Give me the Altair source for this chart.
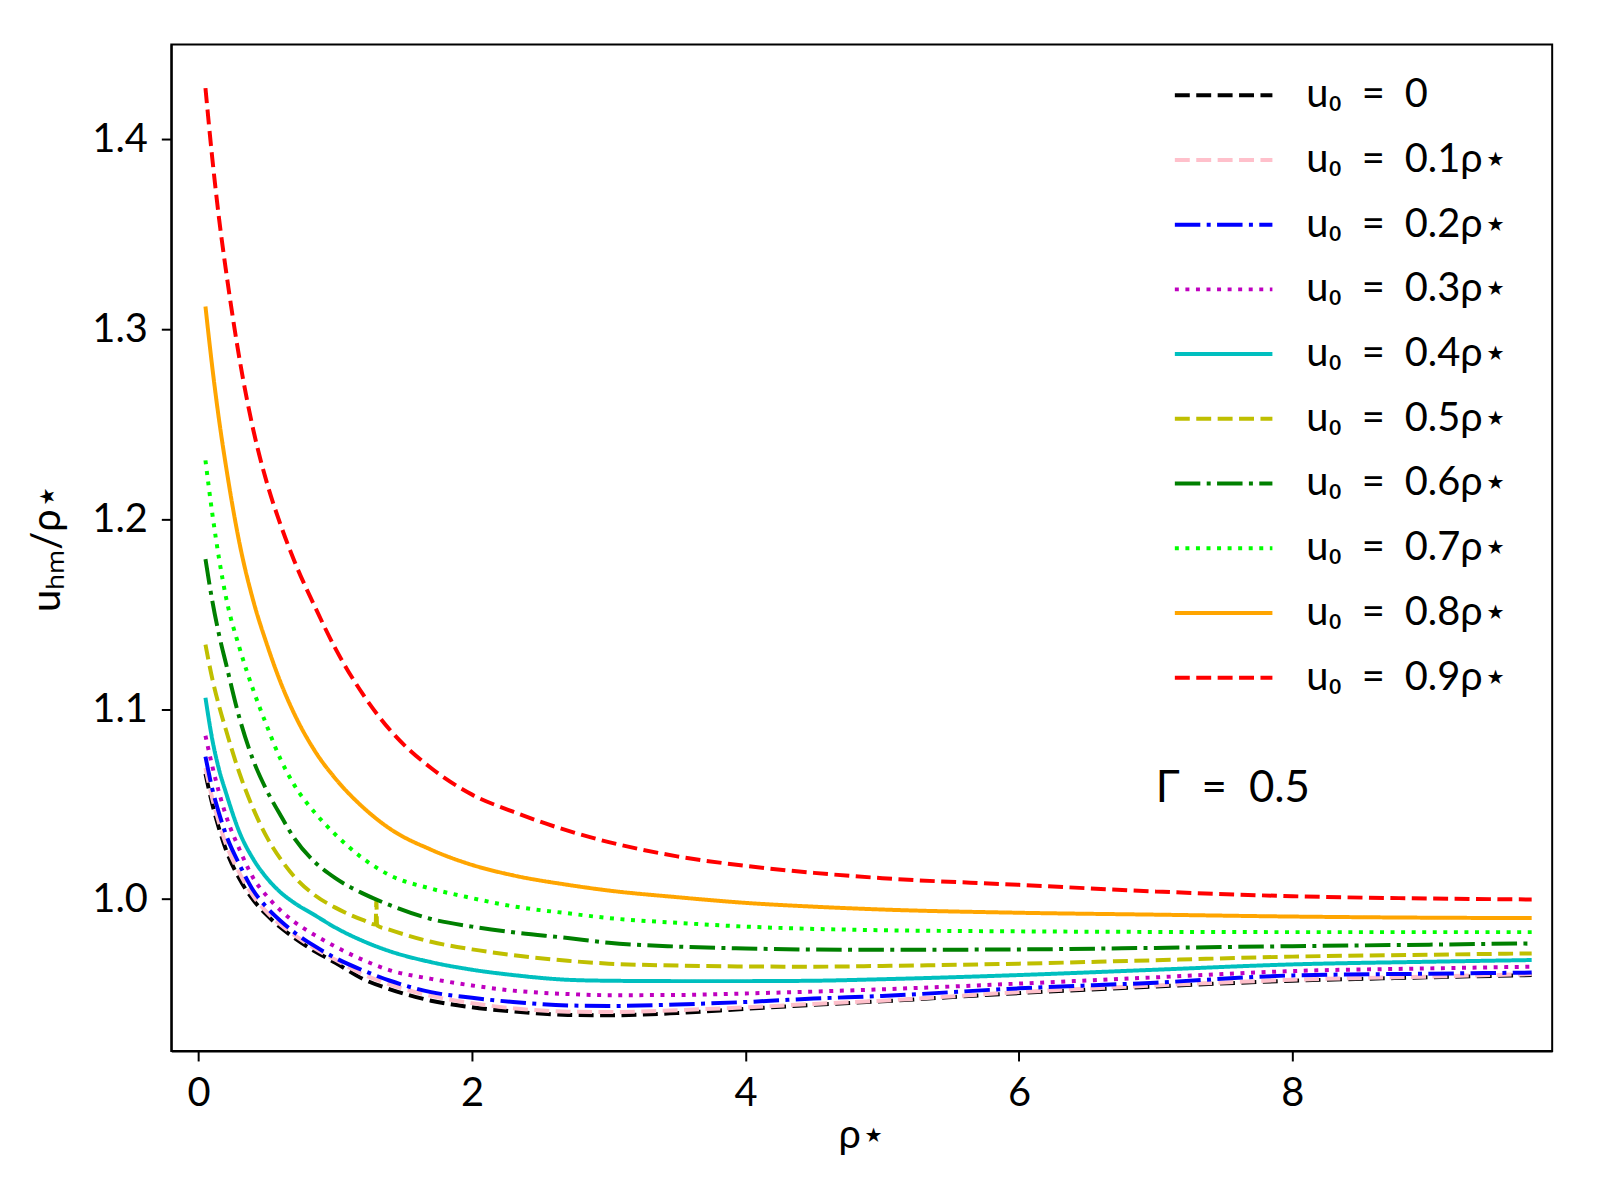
import altair as alt
import pandas as pd

# x grid of rho_star
X = [0.05, 0.1, 0.15, 0.2, 0.3, 0.4, 0.5, 0.6, 0.7, 0.85, 1.0, 1.2, 1.4, 1.7,
     2.0, 2.3, 2.7, 3.0, 3.5, 4.0, 4.5, 5.0, 6.0, 7.0, 8.0, 9.0, 9.75]

Y_00 = [1.066, 1.050, 1.037, 1.026, 1.0105, 0.9995, 0.9915, 0.985, 0.9795, 0.9725, 0.9665, 0.958, 0.9525, 0.9465,
        0.943, 0.9408, 0.939, 0.9388, 0.940, 0.9422, 0.9443, 0.9462, 0.9505, 0.954, 0.957, 0.9588, 0.960]
Y_01 = [1.069, 1.053, 1.040, 1.029, 1.0135, 1.0015, 0.993, 0.9865, 0.981, 0.974, 0.968, 0.9605, 0.955, 0.949,
        0.9452, 0.9425, 0.9407, 0.9405, 0.9415, 0.943, 0.9448, 0.9465, 0.951, 0.9545, 0.9575, 0.9592, 0.9605]
Y_02 = [1.075, 1.058, 1.045, 1.034, 1.018, 1.0045, 0.9955, 0.9885, 0.9825, 0.9752, 0.969, 0.9625, 0.957, 0.951,
        0.948, 0.9458, 0.944, 0.9437, 0.9445, 0.9458, 0.9476, 0.949, 0.953, 0.956, 0.9598, 0.9607, 0.9613]
Y_03 = [1.086, 1.070, 1.056, 1.044, 1.026, 1.011, 1.0015, 0.994, 0.988, 0.981, 0.975, 0.968, 0.9625, 0.958,
        0.9545, 0.9518, 0.950, 0.9494, 0.9495, 0.9503, 0.9513, 0.9525, 0.9555, 0.9588, 0.9621, 0.9635, 0.9644]
Y_04 = [1.106, 1.084, 1.068, 1.056, 1.035, 1.021, 1.011, 1.0035, 0.998, 0.9915, 0.985, 0.978, 0.9725, 0.9668,
        0.9628, 0.960, 0.9575, 0.957, 0.9568, 0.9568, 0.957, 0.9578, 0.960, 0.9628, 0.9656, 0.967, 0.9679]
Y_05 = [1.134, 1.116, 1.1015, 1.089, 1.066, 1.0475, 1.0325, 1.021, 1.0118, 1.002, 0.9955, 0.989, 0.9838, 0.9775,
        0.9735, 0.9705, 0.9675, 0.966, 0.965, 0.9645, 0.9644, 0.9648, 0.966, 0.9678, 0.9697, 0.9707, 0.9714]
Y_06 = [1.179, 1.157, 1.139, 1.124, 1.095, 1.073, 1.057, 1.044, 1.032, 1.0195, 1.011, 1.003, 0.9968, 0.9895,
        0.9855, 0.9825, 0.9795, 0.977, 0.975, 0.974, 0.9734, 0.9733, 0.9735, 0.9743, 0.9752, 0.976, 0.9767]
Y_07 = [1.231, 1.203, 1.179, 1.159, 1.132, 1.110, 1.091, 1.0735, 1.060, 1.0455, 1.034, 1.0215, 1.0125, 1.0055,
        1.0005, 0.9962, 0.9925, 0.990, 0.9875, 0.9855, 0.9843, 0.9836, 0.983, 0.9827, 0.9826, 0.9826, 0.9826]
Y_08 = [1.312, 1.280, 1.252, 1.228, 1.187, 1.157, 1.134, 1.114, 1.0975, 1.078, 1.0635, 1.0485, 1.037, 1.026,
        1.018, 1.0125, 1.0075, 1.0045, 1.001, 0.998, 0.996, 0.9945, 0.9928, 0.9918, 0.9908, 0.9902, 0.990]
Y_09 = [1.427, 1.390, 1.358, 1.331, 1.284, 1.247, 1.219, 1.197, 1.178, 1.154, 1.132, 1.108, 1.089, 1.069,
        1.055, 1.046, 1.036, 1.030, 1.0225, 1.0175, 1.0138, 1.011, 1.0075, 1.004, 1.0015, 1.0003, 0.9998]

# small glitch visible in the u0 = 0.5 curve
GLITCH_X = [1.295, 1.30, 1.305]
GLITCH_Y = [0.9866, 0.999, 0.9862]

SP = "\u2002"
LABELS = [f"u₀{SP}={SP}0", f"u₀{SP}={SP}0.1ρ⋆", f"u₀{SP}={SP}0.2ρ⋆", f"u₀{SP}={SP}0.3ρ⋆",
          f"u₀{SP}={SP}0.4ρ⋆", f"u₀{SP}={SP}0.5ρ⋆", f"u₀{SP}={SP}0.6ρ⋆", f"u₀{SP}={SP}0.7ρ⋆",
          f"u₀{SP}={SP}0.8ρ⋆", f"u₀{SP}={SP}0.9ρ⋆"]
COLORS = ["#000000", "#ffc0cb", "#0000ff", "#bf00bf", "#00bfbf",
          "#bfbf00", "#008000", "#00ff00", "#ffa500", "#ff0000"]
DASHED = [15, 6.5]
DASHDOT = [25.6, 6.4, 4, 6.4]
DOTTED = [4, 6.6]
SOLID = [1, 0]
DASHES = [DASHED, DASHED, DASHDOT, DOTTED, SOLID, DASHED, DASHDOT, DOTTED, SOLID, DASHED]

SERIES = [Y_00, Y_01, Y_02, Y_03, Y_04, Y_05, Y_06, Y_07, Y_08, Y_09]

rows = []
for i, (lab, ys) in enumerate(zip(LABELS, SERIES)):
    pts = list(zip(X, ys))
    if i == 5:
        pts += list(zip(GLITCH_X, GLITCH_Y))
    pts.sort()
    for xv, yv in pts:
        rows.append({"rho": xv, "u": yv, "series": lab})
df = pd.DataFrame(rows)

FONT = "Lato"

legend = alt.Legend(
    title=None, orient="none", legendX=1006, legendY=31,
    symbolType="stroke", symbolSize=9604, symbolStrokeWidth=4,
    labelFontSize=40, labelFont=FONT, labelColor="black",
    labelOffset=32, rowPadding=25, clipHeight=40, padding=0,
    labelLimit=400,
)

lines = alt.Chart(df).mark_line(strokeWidth=4, interpolate="monotone", clip=True, strokeCap="butt").encode(
    x=alt.X("rho:Q", scale=alt.Scale(domain=[-0.2, 9.9], nice=False, zero=False),
            axis=alt.Axis(values=[0, 2, 4, 6, 8], format="d", title="ρ⋆", titlePadding=2)),
    y=alt.Y("u:Q", scale=alt.Scale(domain=[0.92, 1.45], nice=False, zero=False),
            axis=alt.Axis(values=[1.0, 1.1, 1.2, 1.3, 1.4], format=".1f", title="uₕₘ/ρ⋆", titlePadding=24)),
    color=alt.Color("series:N", scale=alt.Scale(domain=LABELS, range=COLORS), legend=legend),
    strokeDash=alt.StrokeDash("series:N", scale=alt.Scale(domain=LABELS, range=DASHES), legend=legend),
)

ANN_X = [7.0]
ANN_Y = [1.058]
ANN_T = [f"Γ{SP}={SP}0.5"]
ann = alt.Chart(pd.DataFrame({"x": ANN_X, "y": ANN_Y, "t": ANN_T})).mark_text(
    align="left", baseline="middle", fontSize=44, font=FONT, color="black"
).encode(x="x:Q", y="y:Q", text="t:N")

chart = (lines + ann).properties(
    width=1387, height=1011,
    autosize=alt.AutoSizeParams(type="none"),
    padding={"left": 164, "top": 34, "right": 40, "bottom": 140},
).configure_view(
    stroke="black", strokeWidth=2
).configure_axis(
    grid=False, domainColor="black", domainWidth=2, tickColor="black", tickWidth=2, tickSize=10,
    labelFontSize=40, labelFont=FONT, labelColor="black", labelPadding=13,
    titleFontSize=40, titleFont=FONT, titleColor="black", titleFontWeight="normal",
).configure_axisY(labelPadding=14)

chart.save("out.html", embed_options={"renderer": "svg", "actions": False})
